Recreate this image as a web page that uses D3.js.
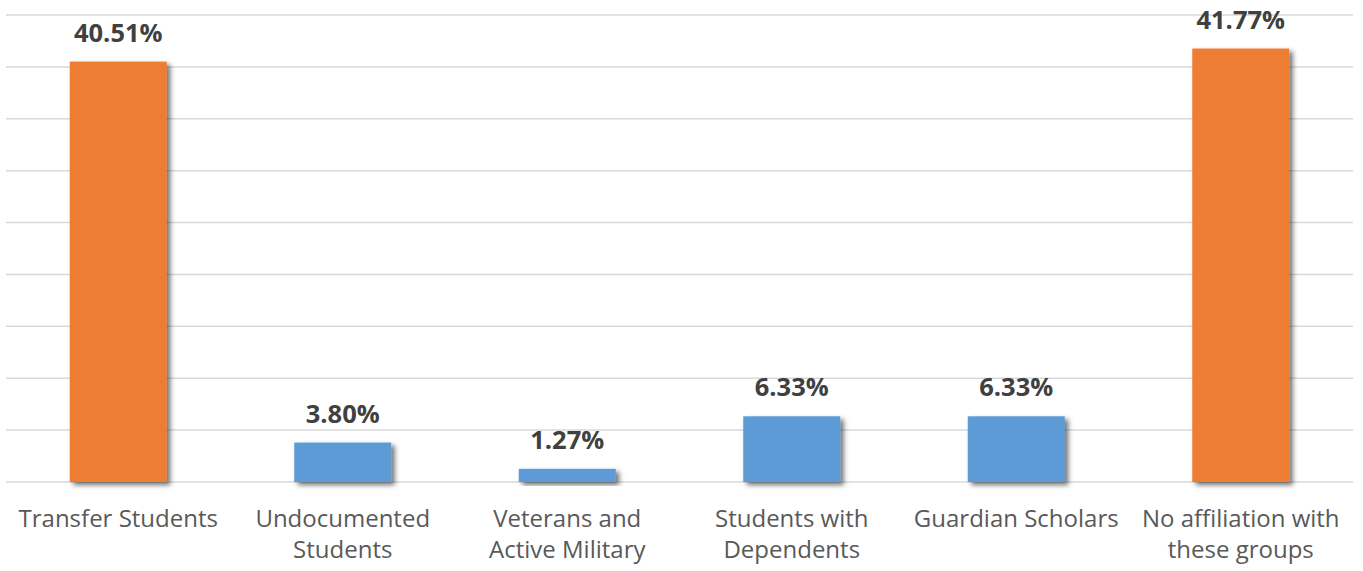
<!DOCTYPE html>
<html>
<head>
<meta charset="utf-8">
<script src="https://cdn.jsdelivr.net/npm/d3@7"></script>
<style>
  html, body { margin: 0; padding: 0; background: #ffffff; }
  svg { display: block; }
</style>
</head>
<body>
<svg id="chart" width="1363" height="571"></svg>
<script>
// ---- data ----
const categories = [
  "Transfer Students",
  "Undocumented Students",
  "Veterans and Active Military",
  "Students with Dependents",
  "Guardian Scholars",
  "No affiliation with these groups"
];
const categoryLines = [
  ["Transfer Students"],
  ["Undocumented", "Students"],
  ["Veterans and", "Active Military"],
  ["Students with", "Dependents"],
  ["Guardian Scholars"],
  ["No affiliation with", "these groups"]
];
const values = [40.51, 3.80, 1.27, 6.33, 6.33, 41.77];
const groups = ["major", "minor", "minor", "minor", "minor", "major"];
const yTicks = [0, 5, 10, 15, 20, 25, 30, 35, 40, 45];

// ---- layout ----
const plotLeft = 6, plotRight = 1353, plotTop = 15, plotBottom = 482;

const svg = d3.select("#chart");

const defs = svg.append("defs");
const f = defs.append("filter").attr("id", "shadow")
  .attr("x", "-20%").attr("y", "-20%").attr("width", "150%").attr("height", "150%");
f.append("feDropShadow")
  .attr("dx", 3.5).attr("dy", 3).attr("stdDeviation", 2.5)
  .attr("flood-color", "#000").attr("flood-opacity", 0.55);

const x = d3.scaleBand()
  .domain(categories)
  .range([plotLeft, plotRight])
  .paddingInner(0.568)
  .paddingOuter(0.284);

const y = d3.scaleLinear().domain([0, 45]).range([plotBottom, plotTop]);

const color = d3.scaleOrdinal().domain(["major", "minor"]).range(["#ED7D31", "#5B9BD5"]);

// gridlines
svg.append("g").selectAll("line")
  .data(yTicks)
  .join("line")
  .attr("x1", plotLeft).attr("x2", plotRight)
  .attr("y1", d => y(d)).attr("y2", d => y(d))
  .attr("stroke", "#D9D9D9")
  .attr("stroke-width", 1.5);

const data = categories.map((c, i) => ({ c, v: values[i], g: groups[i], lines: categoryLines[i] }));

// bars
svg.append("g").selectAll("rect")
  .data(data)
  .join("rect")
  .attr("x", d => x(d.c))
  .attr("width", x.bandwidth())
  .attr("y", d => y(d.v))
  .attr("height", d => y(0) - y(d.v))
  .attr("fill", d => color(d.g))
  .attr("filter", "url(#shadow)");

// value labels
svg.append("g").selectAll("text")
  .data(data)
  .join("text")
  .attr("x", d => x(d.c) + x.bandwidth() / 2)
  .attr("y", d => y(d.v) - 20)
  .attr("text-anchor", "middle")
  .attr("font-family", "'Open Sans', sans-serif")
  .attr("font-weight", "bold")
  .attr("font-size", 25.5)
  .attr("fill", "#404040")
  .text(d => d.v.toFixed(2) + "%");

// category labels
const cat = svg.append("g").selectAll("text")
  .data(data)
  .join("text")
  .attr("text-anchor", "middle")
  .attr("font-family", "'Open Sans', sans-serif")
  .attr("font-size", 24)
  .attr("fill", "#595959");
cat.each(function(d) {
  const t = d3.select(this);
  d.lines.forEach((ln, k) => {
    t.append("tspan")
      .attr("x", x(d.c) + x.bandwidth() / 2)
      .attr("y", plotBottom + 45 + k * 31)
      .text(ln);
  });
});
</script>
</body>
</html>
